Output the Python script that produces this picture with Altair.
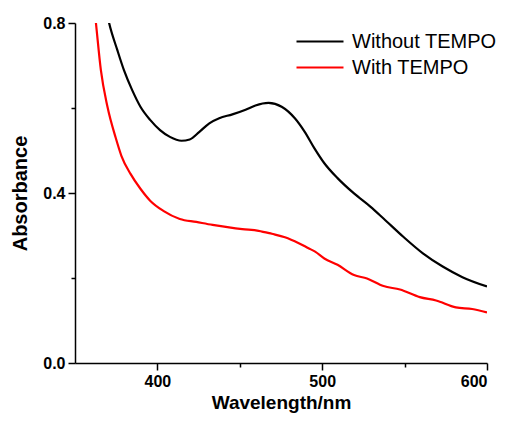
import altair as alt
import pandas as pd

# Without TEMPO (black)
black_wl = [367.0, 370.7, 375.7, 379.7, 384.7, 389.7, 395.6, 401.6, 407.6, 414.6, 419.6, 425.5,
            431.5, 437.5, 445.5, 453.5, 459.5, 467.4, 475.4, 483.4, 489.4, 495.3, 501.3, 509.3,
            519.3, 529.2, 537.2, 549.2, 561.1, 573.1, 585.1, 600.0]
black_abs = [0.87, 0.800, 0.736, 0.689, 0.642, 0.603, 0.572, 0.548, 0.532, 0.523, 0.526, 0.544,
             0.564, 0.576, 0.585, 0.596, 0.606, 0.612, 0.603, 0.576, 0.544, 0.505, 0.470, 0.435,
             0.399, 0.368, 0.340, 0.297, 0.258, 0.227, 0.202, 0.180]

# With TEMPO (red)
red_wl = [360.5, 362.7, 365.7, 369.7, 374.7, 378.2, 383.7, 389.7, 395.6, 403.6, 413.6, 423.6,
          433.5, 443.5, 451.5, 461.4, 469.4, 477.4, 485.8, 491.7, 495.7, 501.3, 509.3, 519.3,
          527.2, 537.2, 547.2, 559.2, 569.1, 581.1, 591.0, 600.0]
red_abs = [0.88, 0.800, 0.689, 0.603, 0.530, 0.487, 0.445, 0.410, 0.382, 0.358, 0.339, 0.332,
           0.325, 0.319, 0.315, 0.311, 0.304, 0.296, 0.282, 0.270, 0.262, 0.246, 0.231, 0.207,
           0.199, 0.181, 0.173, 0.155, 0.147, 0.131, 0.127, 0.119]

series_names = ["Without TEMPO", "With TEMPO"]
series_colors = ["#000000", "#ff0000"]

x_major = [400, 500, 600]
x_minor = [450, 550]
y_major = [0.0, 0.4, 0.8]
y_minor = [0.2, 0.6]

df = pd.concat([
    pd.DataFrame({"wl": black_wl, "abs": black_abs, "series": series_names[0]}),
    pd.DataFrame({"wl": red_wl, "abs": red_abs, "series": series_names[1]}),
])

FONT = "Liberation Sans"
x_scale = alt.Scale(domain=[350, 600], nice=False, zero=False)
y_scale = alt.Scale(domain=[0, 0.8], nice=False)

lines = alt.Chart(df).mark_line(strokeWidth=2.2, clip=True, interpolate="monotone").encode(
    x=alt.X("wl:Q", scale=x_scale,
            axis=alt.Axis(values=x_major, title="Wavelength/nm", format="d", orient="bottom",
                          labelPadding=3, titlePadding=4, titleFontSize=19)),
    y=alt.Y("abs:Q", scale=y_scale,
            axis=alt.Axis(values=y_major, title="Absorbance", format=".1f", orient="left",
                          labelPadding=3, titlePadding=12)),
    color=alt.Color("series:N",
                    scale=alt.Scale(domain=series_names, range=series_colors),
                    legend=alt.Legend(title=None, orient="none", legendX=233.5, legendY=7,
                                      symbolType="M-2.35,0H2.35", symbolSize=400,
                                      symbolStrokeWidth=2.2,
                                      labelFontSize=20, labelFont=FONT, labelColor="#000",
                                      labelOffset=20.5, padding=0, rowPadding=4)),
)

minor = alt.Chart(df).mark_line(strokeOpacity=0).encode(
    x=alt.X("wl:Q", scale=x_scale,
            axis=alt.Axis(values=x_minor, labels=False, domain=False, title=None,
                          tickSize=4, orient="bottom")),
    y=alt.Y("abs:Q", scale=y_scale,
            axis=alt.Axis(values=y_minor, labels=False, domain=False, title=None,
                          tickSize=4, orient="left")),
)

chart = alt.layer(lines, minor).resolve_axis(x="independent", y="independent").properties(
    width=412, height=340,
    autosize=alt.AutoSizeParams(type="none"),
    padding={"left": 67, "top": 15, "right": 13, "bottom": 50},
).configure_view(stroke=None).configure_axis(
    grid=False, domainColor="#000", domainWidth=1.5, tickColor="#000", tickWidth=1.5,
    tickSize=7, labelFont=FONT, labelFontWeight="bold", labelFontSize=16, labelColor="#000",
    titleFont=FONT, titleFontWeight="bold", titleFontSize=20, titleColor="#000",
)

chart.save("out.html", embed_options={"renderer": "svg", "actions": False})
